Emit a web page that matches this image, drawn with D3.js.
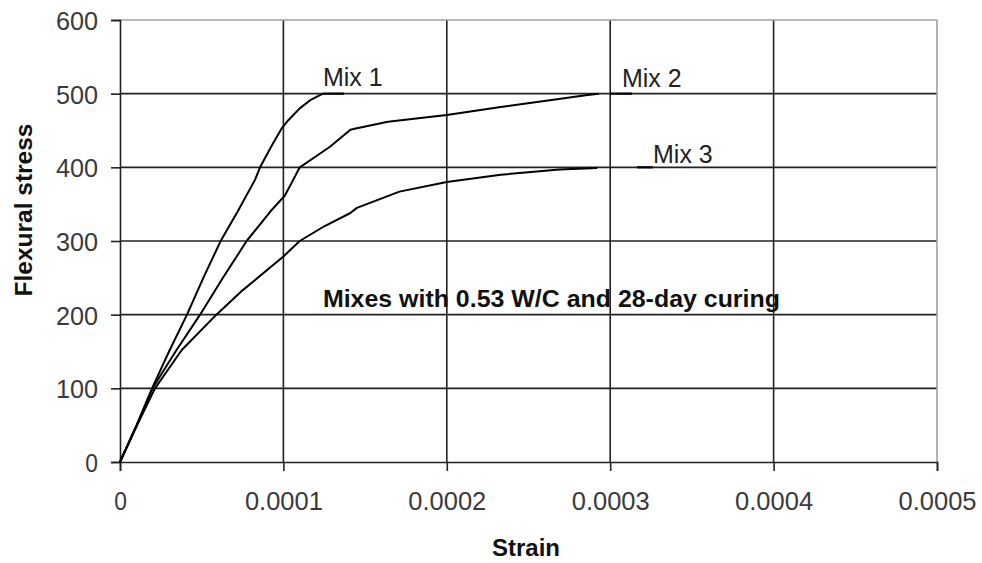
<!DOCTYPE html>
<html>
<head>
<meta charset="utf-8">
<script src="https://cdn.jsdelivr.net/npm/d3@7/dist/d3.min.js"></script>
<style>
  html, body { margin: 0; padding: 0; background: #fff; }
  svg { display: block; }
  text { font-family: "Liberation Sans", Arial, sans-serif; }
</style>
</head>
<body>
<svg id="chart" width="982" height="563"></svg>
<script>
// ---- data ----
const xTicks = [0, 0.0001, 0.0002, 0.0003, 0.0004, 0.0005];
const xTickLabels = ["0", "0.0001", "0.0002", "0.0003", "0.0004", "0.0005"];
const yTicks = [0, 100, 200, 300, 400, 500, 600];
const yTickLabels = ["0", "100", "200", "300", "400", "500", "600"];

const mix1Strain = [0, 0.0000102, 0.0000196, 0.000030, 0.000041, 0.000051, 0.0000616, 0.000072, 0.0000826, 0.0000857, 0.000093, 0.000099, 0.000103, 0.000110, 0.000117, 0.0001242];
const mix1Stress = [0, 50, 100, 150, 200, 250, 300, 340, 383, 400, 430, 453, 464, 480, 492, 500];

const mix2Strain = [0, 0.0000102, 0.0000199, 0.000034, 0.000049, 0.000063, 0.0000775, 0.000092, 0.000101, 0.000106, 0.000110, 0.000120, 0.0001285, 0.000141, 0.000145, 0.000164, 0.000200, 0.000233, 0.000263, 0.000285, 0.000293];
const mix2Stress = [0, 50, 100, 150, 200, 250, 300, 340, 362, 383, 400, 415, 428, 451, 453, 462, 471, 482, 491, 498, 500];

const mix3Strain = [0, 0.0000105, 0.0000214, 0.0000378, 0.000059, 0.000075, 0.000100, 0.000110, 0.000125, 0.000141, 0.000145, 0.000171, 0.000200, 0.000233, 0.000269, 0.000292];
const mix3Stress = [0, 50, 100, 152, 200, 233, 279, 300, 320, 338, 345, 367, 380, 390, 397, 399];

const seriesNames = ["Mix 1", "Mix 2", "Mix 3"];
// label anchor (strain, stress) and leader line (strain from, strain to, stress)
const labelStrain = [0.0001242, 0.0003072, 0.0003262];
const labelStress = [510, 509, 406];
const leaderFrom = [0.0001242, 0.0003000, 0.0003164];
const leaderTo = [0.0001370, 0.0003134, 0.0003262];
const leaderStress = [500, 500, 400];

const annotationText = "Mixes with 0.53 W/C and 28-day curing";
const annotationStrain = 0.0001242;
const annotationStress = 210;

const xTitle = "Strain";
const yTitle = "Flexural stress";

// ---- layout ----
const svg = d3.select("#chart");
const mLeft = 120, mRight = 937, mTop = 20, mBottom = 462;

const x = d3.scaleLinear().domain([0, 0.0005]).range([mLeft, mRight]);
const y = d3.scaleLinear().domain([0, 600]).range([mBottom, mTop]);

// gridlines
const grid = svg.append("g");
grid.selectAll("line.h").data(yTicks.filter(d => d > 0 && d < 600)).join("line")
  .attr("class", "h")
  .attr("x1", mLeft).attr("x2", mRight)
  .attr("y1", d => y(d)).attr("y2", d => y(d))
  .attr("stroke", "#222").attr("stroke-width", 1.6);
grid.selectAll("line.v").data(xTicks.filter(d => d > 0 && d < 0.0005)).join("line")
  .attr("class", "v")
  .attr("y1", mTop).attr("y2", mBottom)
  .attr("x1", d => x(d)).attr("x2", d => x(d))
  .attr("stroke", "#222").attr("stroke-width", 1.6);

// top / right border (light)
svg.append("line").attr("x1", mLeft).attr("x2", mRight).attr("y1", y(600)).attr("y2", y(600))
  .attr("stroke", "#a0a0a0").attr("stroke-width", 1.6);
svg.append("line").attr("x1", x(0.0005)).attr("x2", x(0.0005)).attr("y1", mTop).attr("y2", mBottom)
  .attr("stroke", "#a0a0a0").attr("stroke-width", 1.6);

// axes
const charW = ch => (ch === "." ? 6.5 : 14.7);
const labelLen = s => s.split("").reduce((a, c) => a + charW(c), 0);

const yAxis = d3.axisLeft(y).tickValues(yTicks).tickSize(9).tickPadding(13)
  .tickFormat((d, i) => yTickLabels[i]);
const gy = svg.append("g").attr("transform", `translate(${mLeft},0)`).call(yAxis);
gy.select(".domain").attr("stroke", "#222").attr("stroke-width", 1.6);
gy.selectAll(".tick line").attr("stroke", "#222").attr("stroke-width", 1.6);
gy.selectAll(".tick text")
  .attr("font-family", "'Liberation Sans', Arial, sans-serif")
  .attr("font-size", 26).attr("fill", "#3a3a3a").attr("dy", "0.36em")
  .attr("textLength", (d, i) => labelLen(yTickLabels[i]) - 2)
  .attr("lengthAdjust", "spacingAndGlyphs");

const xAxis = d3.axisBottom(x).tickValues(xTicks).tickSize(9).tickPadding(20)
  .tickFormat((d, i) => xTickLabels[i]);
const gx = svg.append("g").attr("transform", `translate(0,${mBottom})`).call(xAxis);
gx.select(".domain").attr("stroke", "#222").attr("stroke-width", 1.6);
gx.selectAll(".tick line").attr("stroke", "#222").attr("stroke-width", 1.6);
gx.selectAll(".tick text")
  .attr("font-family", "'Liberation Sans', Arial, sans-serif")
  .attr("font-size", 26).attr("fill", "#3a3a3a").attr("dy", "0.74em")
  .attr("textLength", (d, i) => labelLen(xTickLabels[i]) - 2)
  .attr("lengthAdjust", "spacingAndGlyphs");

// series
const series = [
  mix1Strain.map((s, i) => [s, mix1Stress[i]]),
  mix2Strain.map((s, i) => [s, mix2Stress[i]]),
  mix3Strain.map((s, i) => [s, mix3Stress[i]])
];
const line = d3.line().x(d => x(d[0])).y(d => y(d[1]));
svg.append("g").selectAll("path").data(series).join("path")
  .attr("d", line).attr("fill", "none").attr("stroke", "#000")
  .attr("stroke-width", 2).attr("stroke-linejoin", "round");

// leader lines and labels
svg.append("g").selectAll("line").data(seriesNames).join("line")
  .attr("x1", (d, i) => x(leaderFrom[i])).attr("x2", (d, i) => x(leaderTo[i]))
  .attr("y1", (d, i) => y(leaderStress[i])).attr("y2", (d, i) => y(leaderStress[i]))
  .attr("stroke", "#000").attr("stroke-width", 2.2);
svg.append("g").selectAll("text").data(seriesNames).join("text")
  .attr("x", (d, i) => x(labelStrain[i])).attr("y", (d, i) => y(labelStress[i]))
  .attr("font-size", 25).attr("fill", "#222")
  .text(d => d);

// annotation
svg.append("text")
  .attr("x", x(annotationStrain)).attr("y", y(annotationStress))
  .attr("font-size", 23).attr("font-weight", "bold").attr("fill", "#111")
  .attr("textLength", 457).attr("lengthAdjust", "spacingAndGlyphs")
  .text(annotationText);

// axis titles
svg.append("text")
  .attr("x", 526).attr("y", 556)
  .attr("text-anchor", "middle").attr("font-size", 24).attr("font-weight", "bold").attr("fill", "#111")
  .text(xTitle);
svg.append("text")
  .attr("transform", "translate(32,210) rotate(-90)")
  .attr("text-anchor", "middle").attr("font-size", 24.5).attr("font-weight", "bold").attr("fill", "#111")
  .text(yTitle);
</script>
</body>
</html>
